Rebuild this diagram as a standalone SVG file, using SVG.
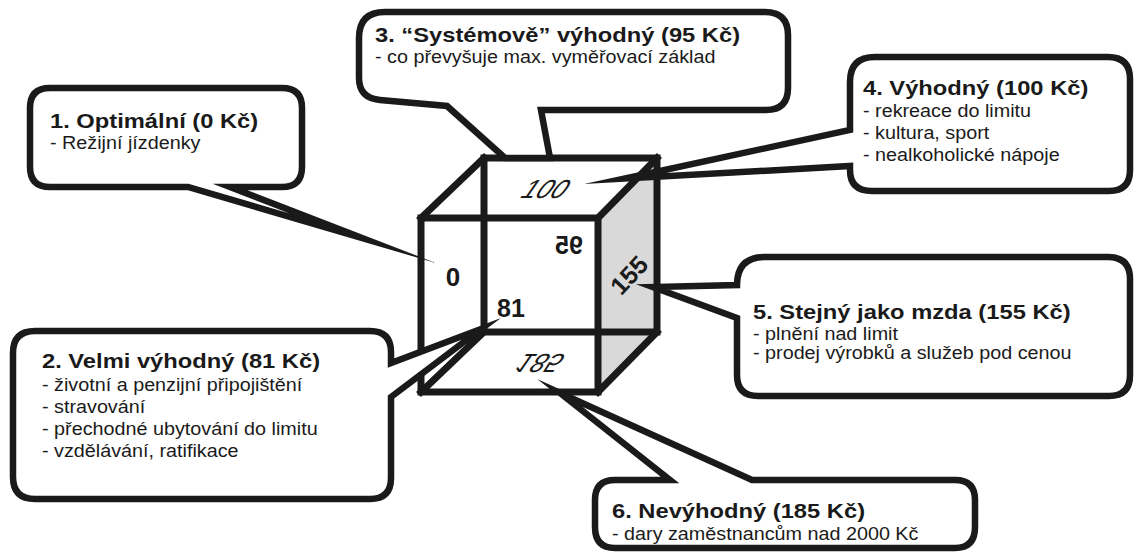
<svg xmlns="http://www.w3.org/2000/svg" width="1136" height="556" viewBox="0 0 1136 556">
<style>
.box{fill:#fff;stroke:#1a1a1a;stroke-width:6.5;stroke-linejoin:miter;stroke-miterlimit:30}
.edge{fill:none;stroke:#1a1a1a;stroke-width:7;stroke-linecap:square;stroke-linejoin:miter}
.t{font-family:"Liberation Sans",Arial,sans-serif;fill:#1a1a1a}
.h{font-weight:bold;font-size:21px}
.s{font-size:17.5px}
.n{font-family:"Liberation Sans",Arial,sans-serif;fill:#1a1a1a;text-anchor:middle}
</style>
<rect width="1136" height="556" fill="#fff"/>
<g id="cube">
  <polygon points="598,218 657,158 657,332 598,392" fill="#d9d9d9"/>
  <rect class="edge" x="484" y="158" width="173" height="174"/>
  <rect class="edge" x="421" y="218" width="177" height="174"/>
  <line class="edge" x1="421" y1="218" x2="484" y2="158"/>
  <line class="edge" x1="598" y1="218" x2="657" y2="158"/>
  <line class="edge" x1="421" y1="392" x2="484" y2="332"/>
  <line class="edge" x1="598" y1="392" x2="657" y2="332"/>
  <text class="n" x="453" y="286" font-size="26" font-weight="bold">0</text>
  <text class="n" x="511" y="317" font-size="25" font-weight="bold">81</text>
  <text class="n" font-size="25" font-weight="bold" transform="translate(569,254) scale(-1,1)">95</text>
  <text class="n" font-size="25" font-weight="bold" y="9" transform="translate(629,275) rotate(-47)">155</text>
  <text class="n" font-size="26" transform="translate(540,198) skewX(-35)">100</text>
  <text class="n" font-size="26" transform="translate(546,354) skewX(-35) scale(1,-1)">185</text>
</g>
<g id="callout-1">
  <path class="box" d="M50,88 H282 Q302,88 302,108 V167 Q302,187 282,187 H230 L362,238 L188,187 H50 Q30,187 30,167 V108 Q30,88 50,88 Z"/>
  <g transform="translate(50,0) scale(1.13,1)">
    <text class="t h" x="0" y="128">1. Optimální (0 Kč)</text>
    <text class="t s" x="0" y="149">- Režijní jízdenky</text>
  </g>
</g>
<g id="callout-2">
  <path class="box" d="M35,331 H370 Q391,331 391,352 V363 L481,329 L391,397 V478 Q391,499 370,499 H35 Q13,499 13,477 V353 Q13,331 35,331 Z"/>
  <g transform="translate(42,0) scale(1.13,1)">
    <text class="t h" x="0" y="368">2. Velmi výhodný (81 Kč)</text>
    <text class="t s" x="0" y="391">- životní a penzijní připojištění</text>
    <text class="t s" x="0" y="413">- stravování</text>
    <text class="t s" x="0" y="435">- přechodné ubytování do limitu</text>
    <text class="t s" x="0" y="457">- vzdělávání, ratifikace</text>
  </g>
</g>
<g id="callout-3">
  <path class="box" d="M385,12 H765 Q788,12 788,35 V88 Q788,110 766,110 H541 L550,158 L505,158 L447,106 L380,100 Q359,98 359,78 V38 Q359,12 385,12 Z"/>
  <g transform="translate(375,0) scale(1.13,1)">
    <text class="t h" x="0" y="42">3. “Systémově” výhodný (95 Kč)</text>
    <text class="t s" x="0" y="63">- co převyšuje max. vyměřovací základ</text>
  </g>
</g>
<g id="callout-4">
  <path class="box" d="M875,57 H1108 Q1130,57 1130,79 V170 Q1130,191 1109,191 H872 Q850,191 850,170 V166 L625,178.5 L850,130 V82 Q850,57 875,57 Z"/>
  <g transform="translate(863,0) scale(1.13,1)">
    <text class="t h" x="0" y="95">4. Výhodný (100 Kč)</text>
    <text class="t s" x="0" y="117">- rekreace do limitu</text>
    <text class="t s" x="0" y="139">- kultura, sport</text>
    <text class="t s" x="0" y="161">- nealkoholické nápoje</text>
  </g>
</g>
<g id="callout-5">
  <path class="box" d="M765,257 H1108 Q1130,257 1130,279 V375 Q1130,396 1109,396 H758 Q737,396 737,375 V318 L653,287 L737,285 Q737,257 765,257 Z"/>
  <g transform="translate(753,0) scale(1.13,1)">
    <text class="t h" x="0" y="319">5. Stejný jako mzda (155 Kč)</text>
    <text class="t s" x="0" y="340">- plnění nad limit</text>
    <text class="t s" x="0" y="359">- prodej výrobků a služeb pod cenou</text>
  </g>
</g>
<g id="callout-6">
  <path class="box" d="M615,480 H670 L560,393 L752,480 H955 Q975,480 975,500 V527 Q975,548 955,548 H615 Q595,548 595,527 V500 Q595,480 615,480 Z"/>
  <g transform="translate(612,0) scale(1.13,1)">
    <text class="t h" x="0" y="518">6. Nevýhodný (185 Kč)</text>
    <text class="t s" x="0" y="540">- dary zaměstnancům nad 2000 Kč</text>
  </g>
</g>
</svg>
